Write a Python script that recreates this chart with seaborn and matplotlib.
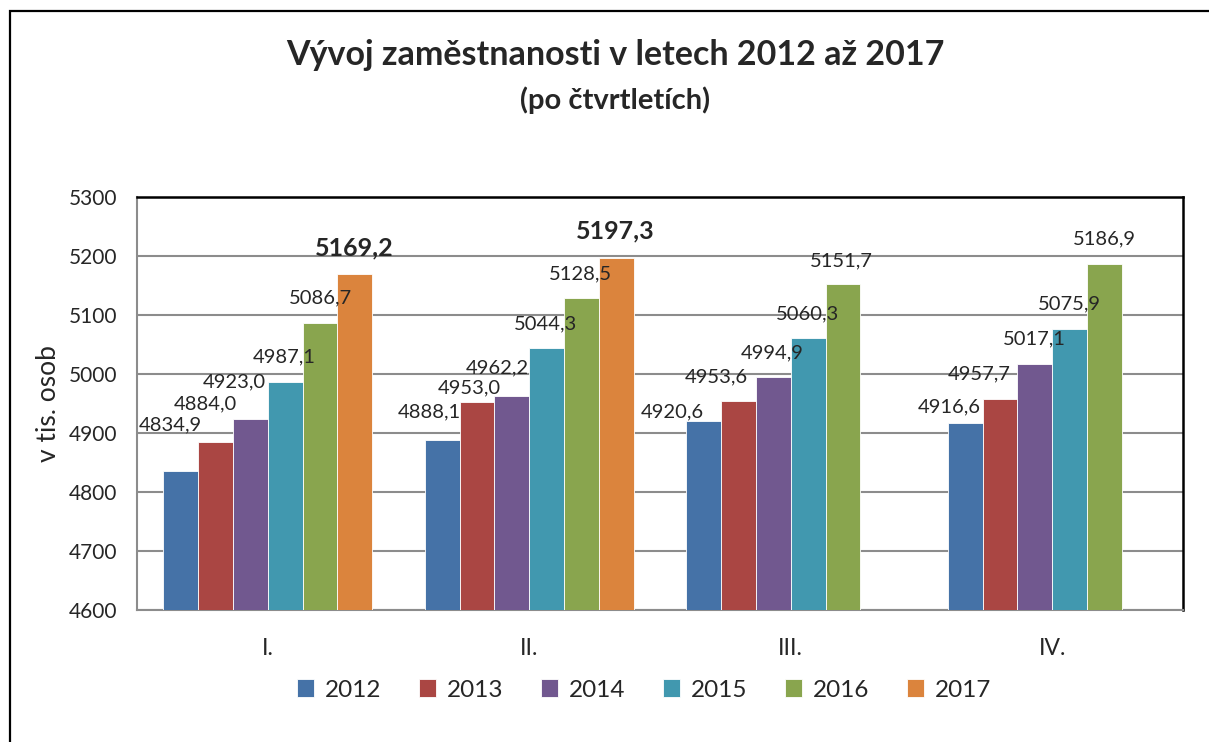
import matplotlib
matplotlib.use("Agg")
import matplotlib.pyplot as plt
import seaborn as sns
import pandas as pd
from matplotlib.patches import Rectangle

# ---- data ----
quarters = ["I.", "II.", "III.", "IV."]
years = ["2012", "2013", "2014", "2015", "2016", "2017"]
v2012 = [4834.9, 4888.1, 4920.6, 4916.6]
v2013 = [4884.0, 4953.0, 4953.6, 4957.7]
v2014 = [4923.0, 4962.2, 4994.9, 5017.1]
v2015 = [4987.1, 5044.3, 5060.3, 5075.9]
v2016 = [5086.7, 5128.5, 5151.7, 5186.9]
v2017 = [5169.2, 5197.3]
yticks = [4600, 4700, 4800, 4900, 5000, 5100, 5200, 5300]

series = [v2012, v2013, v2014, v2015, v2016, v2017]
colors = ["#4572A7", "#AA4643", "#71588F", "#4198AF", "#89A54E", "#DB843D"]

# label offsets (pixels, dx, dy upward) per year, per quarter
label_dx = [[-10, -13, -31, -16], [-10, -8, -22, -21], [-16, -14, -1, 0],
            [-1, -1, -1, 0], [0, -1, -2, 0], [-1, -1]]
label_dy = [[47, 28, 9, 16], [39, 14, 25, 25], [38, 28, 24, 25],
            [25, 24, 25, 25], [25, 24, 24, 25], [26, 27]]

rows = []
for y, vals in zip(years, series):
    for q, v in zip(quarters, vals):
        rows.append({"quarter": q, "year": y, "value": v})
df = pd.DataFrame(rows)

sns.set_theme(style="white")
plt.rcParams["font.family"] = ["Lato", "DejaVu Sans"]

W, H = 1209, 742
fig = plt.figure(figsize=(W / 100, H / 100), dpi=100)
ax = fig.add_axes([137 / W, 1 - 610 / H, (1183 - 137) / W, (610 - 197) / H])

sns.barplot(data=df, x="quarter", y="value", hue="year", order=quarters,
            hue_order=years, palette=colors, saturation=1, width=0.8,
            errorbar=None, edgecolor="white", linewidth=0.6, ax=ax, zorder=3)

ax.set_ylim(4600, 5300)
ax.set_yticks(yticks)
ax.set_yticklabels([str(t) for t in yticks], fontsize=15)
ax.tick_params(axis="x", labelsize=16.5, pad=20, length=0)
ax.tick_params(axis="y", length=0, pad=14)
ax.set_xlabel("")
ax.set_ylabel("v tis. osob", fontsize=19, labelpad=6)
ax.yaxis.grid(True, color="#8c8c8c", linewidth=1.5, zorder=0)
ax.set_axisbelow(True)
for s in ["left", "bottom"]:
    ax.spines[s].set_color("#8c8c8c")
    ax.spines[s].set_linewidth(1.5)
for s in ["top", "right"]:
    ax.spines[s].set_color("black")
    ax.spines[s].set_linewidth(1.8)

# value labels
for yi, cont in enumerate(ax.containers):
    vals = series[yi]
    for qi, (bar, v) in enumerate(zip(cont.patches, vals)):
        xc = bar.get_x() + bar.get_width() / 2
        bold = years[yi] == "2017"
        ax.annotate(f"{v:.1f}".replace(".", ","), (xc, v),
                    xytext=(label_dx[yi][qi] * 0.72, label_dy[yi][qi] * 0.72),
                    textcoords="offset points", ha="center", va="center",
                    fontsize=18 if bold else 14.5,
                    fontweight="bold" if bold else "normal", zorder=5)

# legend
leg = ax.legend(loc="center", bbox_to_anchor=(644 / W, 1 - 690 / H),
                bbox_transform=fig.transFigure, ncol=6, frameon=False,
                fontsize=17.5, handlelength=0.7, handleheight=0.7,
                handletextpad=0.45, columnspacing=1.55)

# titles
fig.text(615 / W, 1 - 55 / H, "Vývoj zaměstnanosti v letech 2012 až 2017",
         ha="center", va="center", fontsize=24.5, fontweight="bold")
fig.text(615 / W, 1 - 100 / H, "(po čtvrtletích)",
         ha="center", va="center", fontsize=21, fontweight="bold")

# outer frame
fig.patches.append(Rectangle((10 / W, -0.05), 1.2, 1 - 11 / H + 0.05,
                             transform=fig.transFigure, fill=False,
                             edgecolor="black", linewidth=1.6, clip_on=False))

fig.savefig("out.png", dpi=100)
